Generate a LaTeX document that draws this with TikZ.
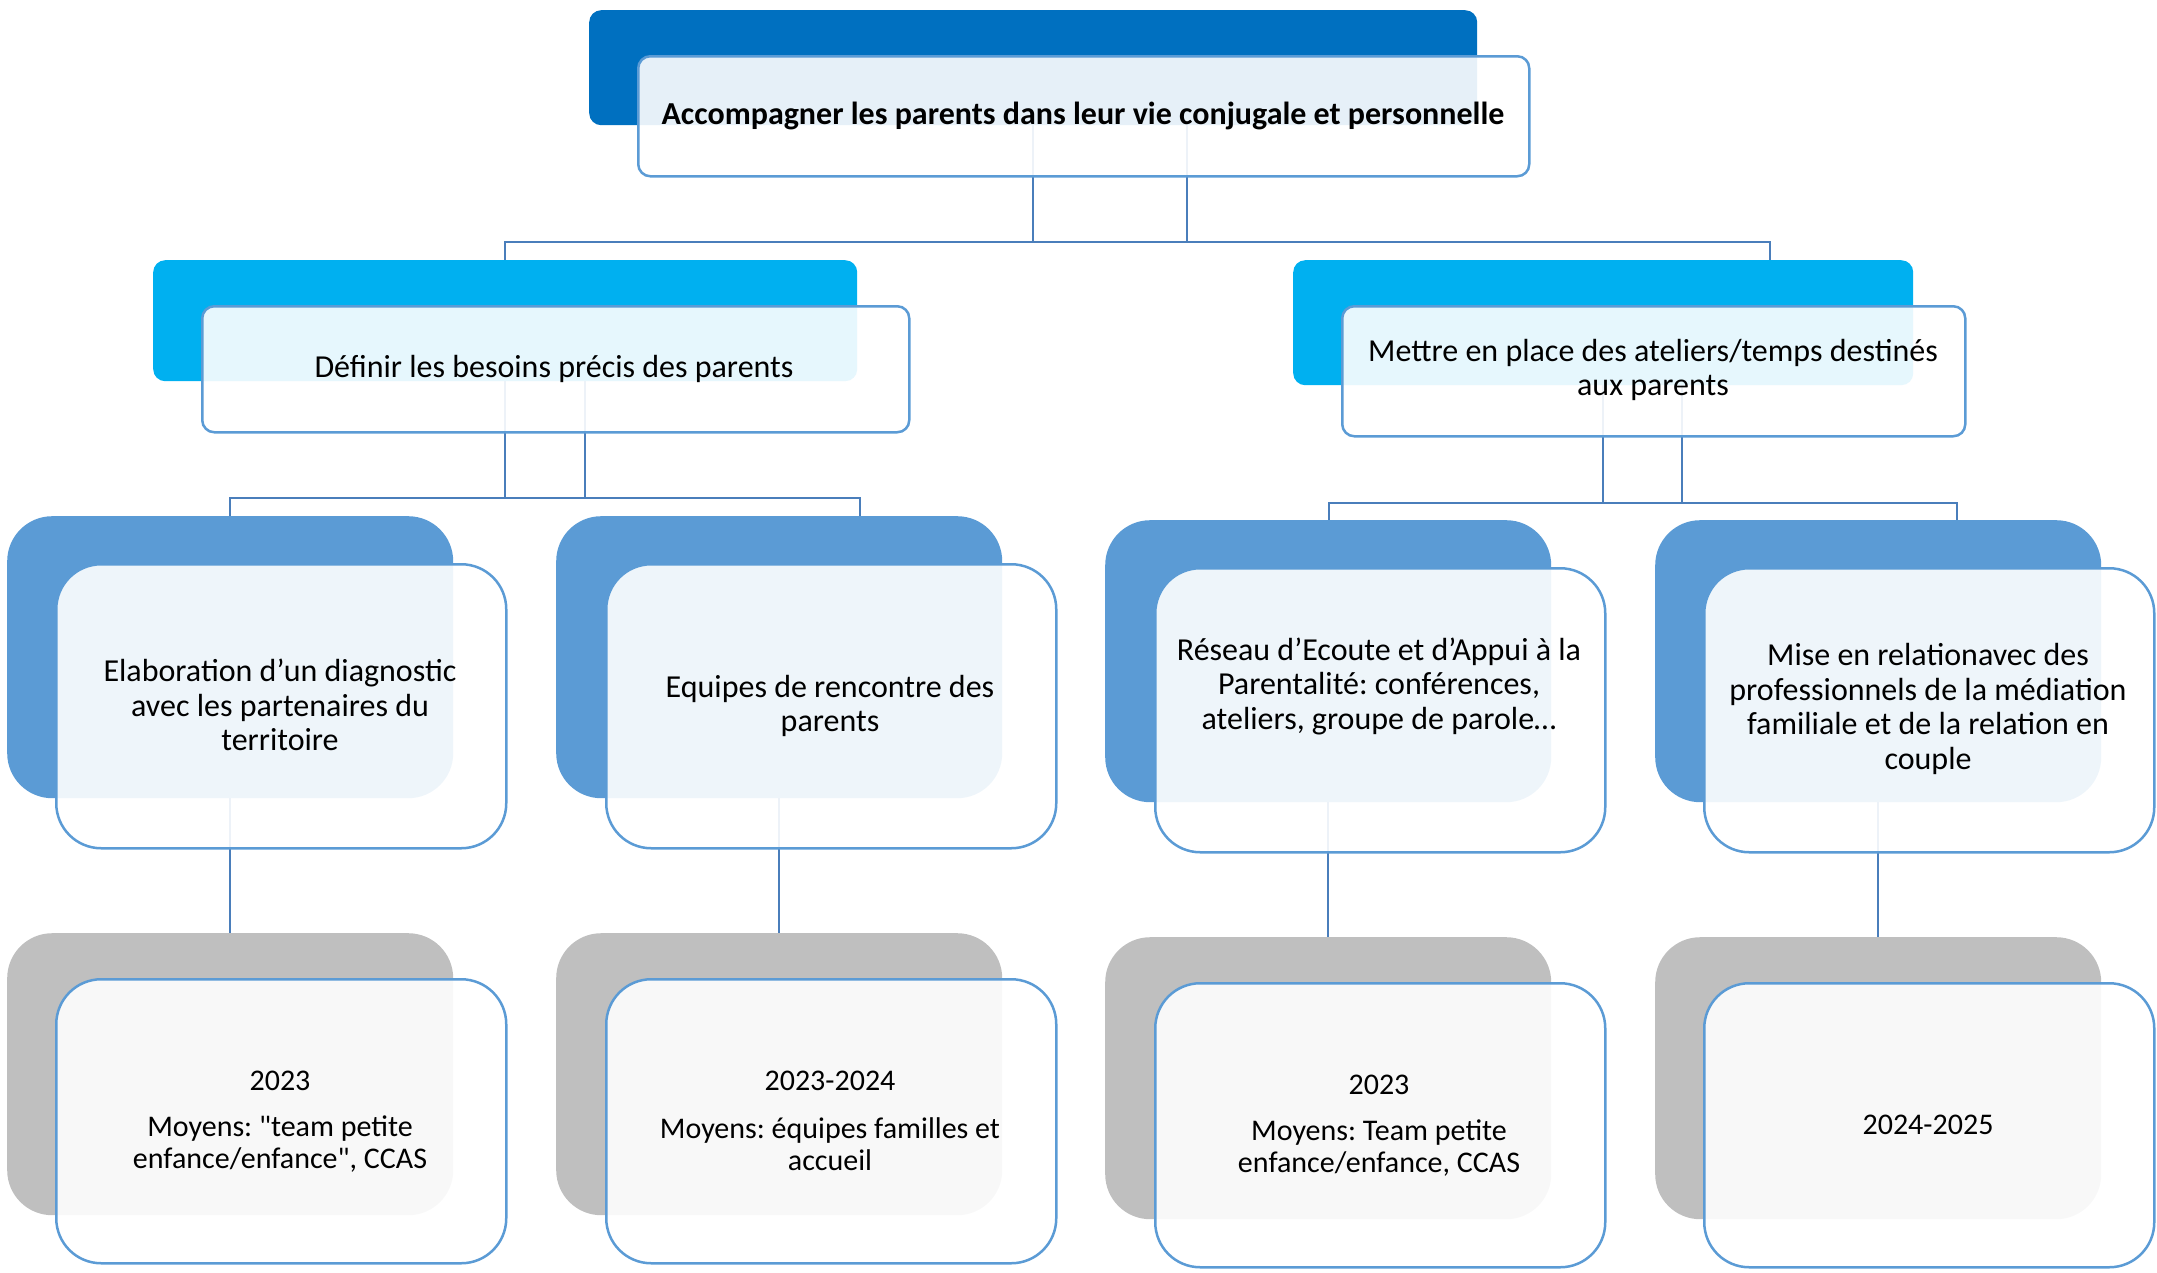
\documentclass[tikz,border=0pt]{standalone}
\usepackage{fontspec}
\setmainfont{Carlito}
\frenchspacing
\newcommand\sq{\XeTeXglyph\XeTeXcharglyph"22\relax}
\definecolor{cdark}{HTML}{0070C0}
\definecolor{ccyan}{HTML}{00B0F0}
\definecolor{cmid}{HTML}{5B9BD5}
\definecolor{cgray}{HTML}{BFBFBF}
\definecolor{cline}{HTML}{5B9BD5}
\definecolor{cconn}{HTML}{4A7EBB}
\begin{document}
\begin{tikzpicture}[x=1pt,y=-1pt,
  backbox/.style={fill=#1, draw=none, anchor=north west, inner sep=0pt},
  frontbox/.style={fill=white, fill opacity=0.9, draw=cline, line width=2.5pt, anchor=north west, inner sep=0pt},
  smallr/.style={rounded corners=12pt},
  bigr/.style={rounded corners=45pt},
  l3size/.style={minimum width=446pt, minimum height=282pt},
  l3fsize/.style={minimum width=450pt, minimum height=284pt},
  conn/.style={draw=cconn, line width=2.5pt},
  txt/.style={font=\fontsize{32}{34.5}\selectfont, align=center, inner sep=0pt, text=black},
  txtsm/.style={font=\fontsize{30}{32}\selectfont, align=center, inner sep=0pt, text=black},
]
\useasboundingbox (0,0) rectangle (2157,1272);

% ---------- back boxes ----------
\node[backbox=cdark, smallr, minimum width=888pt, minimum height=115pt] (b0) at (589,10) {};
\node[backbox=ccyan, smallr, minimum width=704pt, minimum height=121pt] (bL) at (153,260) {};
\node[backbox=ccyan, smallr, minimum width=620pt, minimum height=125pt] (bR) at (1293,260) {};
\node[backbox=cmid, bigr, l3size] (bA) at (7,516) {};
\node[backbox=cmid, bigr, l3size] (bB) at (556,516) {};
\node[backbox=cmid, bigr, l3size] (bC) at (1105,520) {};
\node[backbox=cmid, bigr, l3size] (bD) at (1655,520) {};
\node[backbox=cgray, bigr, l3size] (gA) at (7,933) {};
\node[backbox=cgray, bigr, l3size] (gB) at (556,933) {};
\node[backbox=cgray, bigr, l3size] (gC) at (1105,937) {};
\node[backbox=cgray, bigr, l3size] (gD) at (1655,937) {};

% ---------- connector points ----------
\coordinate (p0a) at (1033,125);
\coordinate (p0b) at (1187,125);
\coordinate (dL) at (505,260);
\coordinate (dR) at (1770,260);
\coordinate (pLa) at (505,381);
\coordinate (pLb) at (585,381);
\coordinate (dA) at (230,516);
\coordinate (dB) at (860,516);
\coordinate (pRa) at (1603,385);
\coordinate (pRb) at (1682,385);
\coordinate (dC) at (1329,520);
\coordinate (dD) at (1957,520);

% ---------- connectors ----------
\draw[conn] (p0b) -- (p0b |- 0,242) -| (dL);
\draw[conn] (p0a) -- (p0a |- 0,242) -| (dR);
\draw[conn] (pLb) -- (pLb |- 0,498) -| (dA);
\draw[conn] (pLa) -- (pLa |- 0,498) -| (dB);
\draw[conn] (pRb) -- (pRb |- 0,503) -| (dC);
\draw[conn] (pRa) -- (pRa |- 0,503) -| (dD);
\draw[conn] (bA.south) -- (gA.north);
\draw[conn] (bB.south) -- (gB.north);
\draw[conn] (bC.south) -- (gC.north);
\draw[conn] (bD.south) -- (gD.north);

% ---------- front boxes ----------
\node[frontbox, smallr, minimum width=891pt, minimum height=120pt] (f0) at (637,55) {};
\node[frontbox, smallr, minimum width=707pt, minimum height=126pt] (fL) at (201,305) {};
\node[frontbox, smallr, minimum width=623pt, minimum height=130pt] (fR) at (1341,305) {};
\node[frontbox, bigr, l3fsize] (fA) at (55,563) {};
\node[frontbox, bigr, l3fsize] (fB) at (605,563) {};
\node[frontbox, bigr, l3fsize] (fC) at (1154,567) {};
\node[frontbox, bigr, l3fsize] (fD) at (1703,567) {};
\node[frontbox, bigr, l3fsize] (hA) at (55,978) {};
\node[frontbox, bigr, l3fsize] (hB) at (605,978) {};
\node[frontbox, bigr, l3fsize] (hC) at (1154,982) {};
\node[frontbox, bigr, l3fsize] (hD) at (1703,982) {};

% ---------- texts ----------
\node[txt, font=\fontsize{32}{34.5}\selectfont\bfseries] (t0) at (1083,116) {Accompagner les parents dans leur vie conjugale et personnelle};
\node[txt] (tL) at (554,369) {Définir les besoins précis des parents};
\node[txt] (tR) at (1653,370) {Mettre en place des ateliers/temps destinés\\aux parents};
\node[txt] (tA) at (280,705) {Elaboration d’un diagnostic\\avec les partenaires du\\territoire};
\node[txt] (tB) at (830,706) {Equipes de rencontre des\\parents};
\node[txt] (tC) at (1379,686) {Réseau d’Ecoute et d’Appui à la\\Parentalité: conférences,\\ateliers, groupe de parole…};
\node[txt] (tD) at (1928,709) {Mise en relationavec des\\professionnels de la médiation\\familiale et de la relation en\\couple};

\node[txtsm] (yA) at (280,1081) {2023};
\node[txtsm] (mA) at (280,1144) {Moyens: \sq team petite\\enfance/enfance\sq, CCAS};
\node[txtsm] (yB) at (830,1081) {2023-2024};
\node[txtsm] (mB) at (830,1144) {Moyens: équipes familles et\\accueil};
\node[txtsm] (yC) at (1379,1085) {2023};
\node[txtsm] (mC) at (1379,1148) {Moyens: Team petite\\enfance/enfance, CCAS};
\node[txtsm] (yD) at (1928,1125) {2024-2025};
\end{tikzpicture}
\end{document}
